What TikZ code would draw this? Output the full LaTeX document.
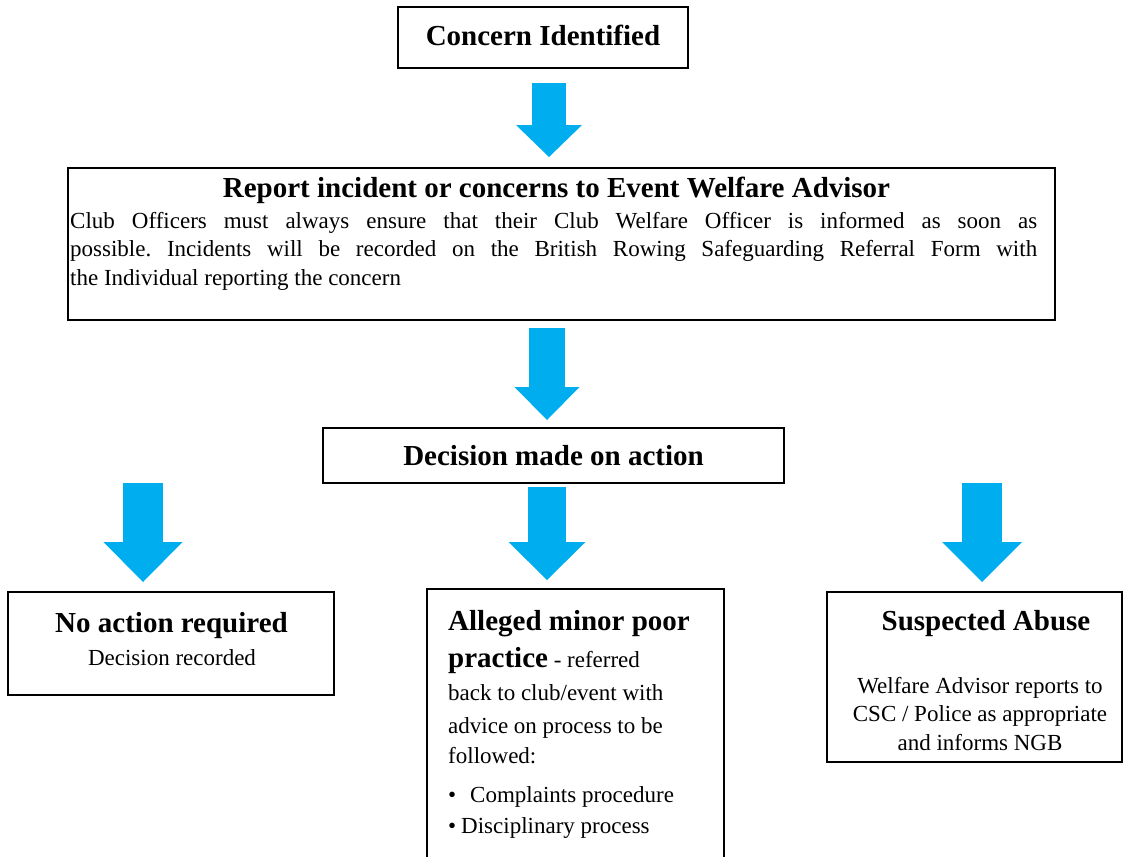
\documentclass[tikz,border=0pt]{standalone}
\usepackage{fontspec}
\setmainfont{Liberation Serif}
\usetikzlibrary{arrows.meta}
\definecolor{flowblue}{RGB}{0,174,239}
\frenchspacing
\tikzset{
  box/.style={draw, line width=2pt, rectangle, inner sep=0pt},
  headtext/.style={font=\fontsize{29}{34}\selectfont\bfseries, inner sep=0pt},
  bodytext/.style={font=\fontsize{23}{28.5}\selectfont, inner sep=0pt},
  flow/.style args={#1/#2/#3}{draw=flowblue, line width=#1pt,
    -{Triangle[length=#3pt, width=#2pt, line width=0pt]}}
}
\begin{document}
\begin{tikzpicture}[x=1pt, y=-1pt]
  \useasboundingbox (0,0) rectangle (1131,856);
  \clip (0,0) rectangle (1131,856);
  \node[box, headtext, minimum width=290pt, minimum height=61pt, text depth=4pt]
    (concern) at (543,37.5) {Concern Identified};
  \node[box, minimum width=987pt, minimum height=152pt] (report) at (561.5,244) {};
  \node[headtext, anchor=base] (reporthead) at (556.5,197)
    {Report incident or concerns to Event Welfare Advisor};
  \node[bodytext, anchor=base west, text width=967pt, align=justify] (reportbody) at (70,228)
    {Club Officers must always ensure that their Club Welfare Officer is informed as soon as\linebreak
     possible. Incidents will be recorded on the British Rowing Safeguarding Referral Form with\linebreak
     the Individual reporting the concern};
  \node[box, headtext, minimum width=461pt, minimum height=55pt]
    (decision) at (553.5,455.5) {Decision made on action};
  \node[box, minimum width=326pt, minimum height=103pt] (noaction) at (171,643.5) {};
  \node[headtext, anchor=base] (noactionhead) at (171.5,632) {No action required};
  \node[bodytext, anchor=base] (noactionbody) at (172,665) {Decision recorded};
  \node[box, minimum width=297pt, minimum height=291pt] (minor) at (575.5,734.5) {};
  \node[bodytext, anchor=base west, text width=270pt, align=flush left,
    font=\fontsize{23}{33}\selectfont] (minorbody) at (448,630)
    {{\fontsize{29}{34}\selectfont\bfseries Alleged minor poor}\\[4pt]
     {\fontsize{29}{34}\selectfont\bfseries practice} - referred\\
     back to club/event with\\
     advice on process to be\\[-3pt]
     followed:\\[6pt]
     \textbullet\hspace{14pt}Complaints procedure\\[-2pt]
     \textbullet\hspace{5pt}Disciplinary process};
  \node[box, minimum width=295pt, minimum height=170pt] (abuse) at (974.5,677) {};
  \node[headtext, anchor=base] (abusehead) at (986,630) {Suspected Abuse};
  \node[bodytext, anchor=base, text width=290pt, align=flush center] (abusebody) at (980,693)
    {Welfare Advisor reports to\\ CSC / Police as appropriate\\ and informs NGB};
  \coordinate (a1top) at (549,83);
  \coordinate (a1tip) at (549,157);
  \coordinate (a2top) at (547,328);
  \coordinate (a2tip) at (547,420);
  \coordinate (a3top) at (143,483);
  \coordinate (a3tip) at (143,582);
  \coordinate (a4top) at (547,487);
  \coordinate (a4tip) at (547,580);
  \coordinate (a5top) at (982,483);
  \coordinate (a5tip) at (982,582);
  \begin{scope}
    \draw[flow=34/66/32] (a1top) -- (a1tip);
    \draw[flow=36/65/33] (a2top) -- (a2tip);
    \draw[flow=40/79/40] (a3top) -- (a3tip);
    \draw[flow=38/77/38] (a4top) -- (a4tip);
    \draw[flow=40/80/40] (a5top) -- (a5tip);
  \end{scope}
\end{tikzpicture}
\end{document}
